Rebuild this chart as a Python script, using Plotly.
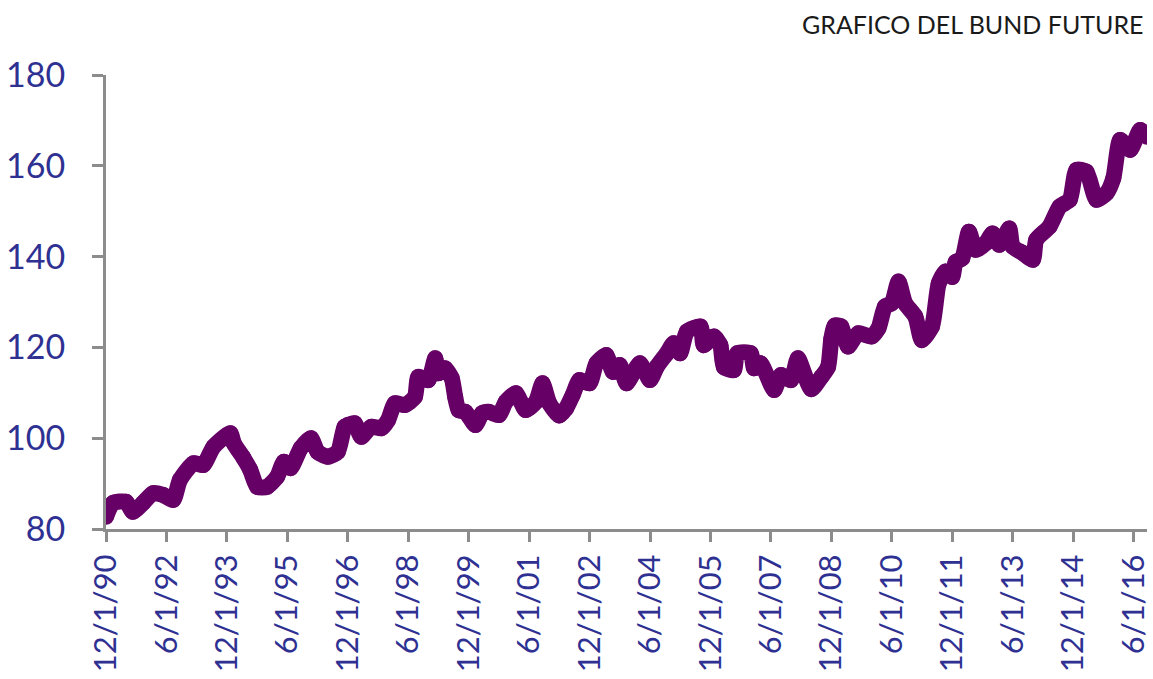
import plotly.graph_objects as go

# Bund future
dates = [
    "1990-12-01", "1991-02-01", "1991-06-01", "1991-08-01", "1991-11-01",
    "1992-02-01", "1992-05-01", "1992-08-01", "1992-10-01", "1993-02-01",
    "1993-05-01", "1993-08-01", "1994-01-01", "1994-02-01", "1994-05-01",
    "1994-07-01", "1994-09-01", "1994-12-01", "1995-03-01", "1995-05-01",
    "1995-07-01", "1995-10-01", "1996-01-01", "1996-03-01", "1996-06-01",
    "1996-09-01", "1996-11-01", "1996-12-01", "1997-02-01", "1997-04-01",
    "1997-07-01", "1997-10-01", "1997-12-01", "1998-02-01", "1998-05-01",
    "1998-08-01", "1998-09-01", "1998-12-01", "1999-02-01", "1999-03-01",
    "1999-05-01", "1999-07-01", "1999-08-01", "1999-09-01", "1999-11-01",
    "2000-02-01", "2000-04-01", "2000-06-01", "2000-09-01", "2000-11-01",
    "2001-02-01", "2001-05-01", "2001-08-01", "2001-10-01", "2001-12-01",
    "2002-03-01", "2002-05-01", "2002-07-01", "2002-09-01", "2002-12-01",
    "2003-02-01", "2003-05-01", "2003-07-01", "2003-09-01", "2003-11-01",
    "2004-03-01", "2004-06-01", "2004-08-01", "2004-11-01", "2005-01-01",
    "2005-03-01", "2005-05-01", "2005-09-01", "2005-10-01", "2006-01-01",
    "2006-03-01", "2006-04-01", "2006-07-01", "2006-08-01", "2006-12-01",
    "2007-01-01", "2007-03-01", "2007-07-01", "2007-09-01", "2007-12-01",
    "2008-02-01", "2008-06-01", "2008-09-01", "2008-11-01", "2008-12-01",
    "2009-01-01", "2009-03-01", "2009-05-01", "2009-08-01", "2009-12-01",
    "2010-02-01", "2010-04-01", "2010-06-01", "2010-08-01", "2010-10-01",
    "2011-01-01", "2011-03-01", "2011-06-01", "2011-08-01", "2011-10-01",
    "2011-12-01", "2012-01-01", "2012-03-01", "2012-05-01", "2012-07-01",
    "2012-10-01", "2012-12-01", "2013-02-01", "2013-05-01", "2013-06-01",
    "2013-09-01", "2013-12-01", "2014-01-01", "2014-05-01", "2014-08-01",
    "2014-11-01", "2015-01-01", "2015-04-01", "2015-07-01", "2015-10-01",
    "2015-12-01", "2016-02-01", "2016-05-01", "2016-08-01", "2016-10-01",
]
values = [
    82.7, 85.7, 86.0, 83.8, 85.7,
    87.9, 87.5, 86.4, 90.8, 94.5,
    94.1, 98.1, 101.1, 98.9, 95.6,
    93.0, 89.3, 89.3, 91.5, 94.8,
    93.4, 97.8, 100.0, 97.0, 95.9,
    97.0, 102.5, 102.9, 103.3, 100.3,
    102.5, 102.2, 104.0, 107.7, 107.3,
    109.1, 113.5, 112.8, 117.6, 114.3,
    115.4, 113.2, 109.1, 106.2, 105.8,
    102.9, 105.5, 105.8, 105.1, 108.0,
    109.9, 106.2, 108.0, 112.1, 107.7,
    105.0, 106.5, 109.5, 112.8, 112.1,
    116.5, 118.3, 114.6, 116.1, 112.1,
    116.5, 112.8, 115.7, 118.7, 120.9,
    118.7, 123.5, 124.6, 120.5, 122.4,
    120.5, 115.7, 115.0, 118.7, 118.7,
    115.4, 116.5, 110.6, 113.9, 112.8,
    117.6, 110.8, 113.5, 115.7, 122.0,
    124.8, 124.6, 120.2, 123.1, 122.4,
    124.2, 129.0, 129.7, 134.5, 129.7,
    126.8, 121.6, 124.6, 134.1, 136.7,
    135.5, 138.8, 139.6, 145.5, 141.5,
    143.0, 145.1, 142.6, 146.2, 142.2,
    140.8, 139.3, 143.7, 146.6, 151.0,
    152.5, 159.1, 158.7, 152.5, 154.0,
    157.3, 165.7, 163.5, 167.9, 166.4,
]

tick_dates = [
    "1990-12-01", "1992-06-01", "1993-12-01", "1995-06-01", "1996-12-01",
    "1998-06-01", "1999-12-01", "2001-06-01", "2002-12-01", "2004-06-01",
    "2005-12-01", "2007-06-01", "2008-12-01", "2010-06-01", "2011-12-01",
    "2013-06-01", "2014-12-01", "2016-06-01",
]
tick_labels = [
    "12/1/90", "6/1/92", "12/1/93", "6/1/95", "12/1/96",
    "6/1/98", "12/1/99", "6/1/01", "12/1/02", "6/1/04",
    "12/1/05", "6/1/07", "12/1/08", "6/1/10", "12/1/11",
    "6/1/13", "12/1/14", "6/1/16",
]
y_ticks = [80, 100, 120, 140, 160, 180]

LINE = "#660066"
TICK = "#2e3192"
AXIS = "#8c8c8c"
FONT = "Lato, 'Open Sans', sans-serif"

fig = go.Figure()
fig.add_trace(go.Scatter(
    x=dates, y=values, mode="lines+markers",
    line=dict(color=LINE, width=16, shape="spline", smoothing=0.6),
    marker=dict(color=LINE, size=16, line=dict(width=0)),
    showlegend=False,
    hoverinfo="x+y",
))

fig.update_layout(
    width=1153, height=679,
    margin=dict(l=106, r=6, t=75, b=150, autoexpand=False),
    paper_bgcolor="white", plot_bgcolor="white",
    font=dict(family=FONT),
    annotations=[dict(
        text="GRAFICO DEL BUND FUTURE", xref="paper", yref="paper",
        x=0.999, y=1.112, xanchor="right", yanchor="middle", showarrow=False,
        font=dict(size=25, color="#1a1a1a", family=FONT),
    )],
)
fig.update_xaxes(
    type="date", range=["1990-12-01", "2016-10-01"],
    tickvals=tick_dates, ticktext=tick_labels, tickangle=-90,
    ticks="outside", ticklen=10, tickwidth=3, tickcolor=AXIS,
    showline=True, linecolor=AXIS, linewidth=3, showgrid=False, zeroline=False,
    tickfont=dict(size=31, color=TICK, family=FONT),
    automargin=False, ticklabeloverflow="allow", ticklabelstandoff=0,
)
fig.update_yaxes(
    range=[80, 180], tickvals=y_ticks,
    ticks="outside", ticklen=11, tickwidth=3, tickcolor=AXIS,
    showline=True, linecolor=AXIS, linewidth=3, showgrid=False, zeroline=False,
    tickfont=dict(size=34, color=TICK, family=FONT),
    ticklabelstandoff=20, automargin=False,
)

fig.write_html(
    "out.html",
    config={"displayModeBar": False},
    post_script="document.body.style.margin='0';document.body.style.overflow='hidden';",
)
